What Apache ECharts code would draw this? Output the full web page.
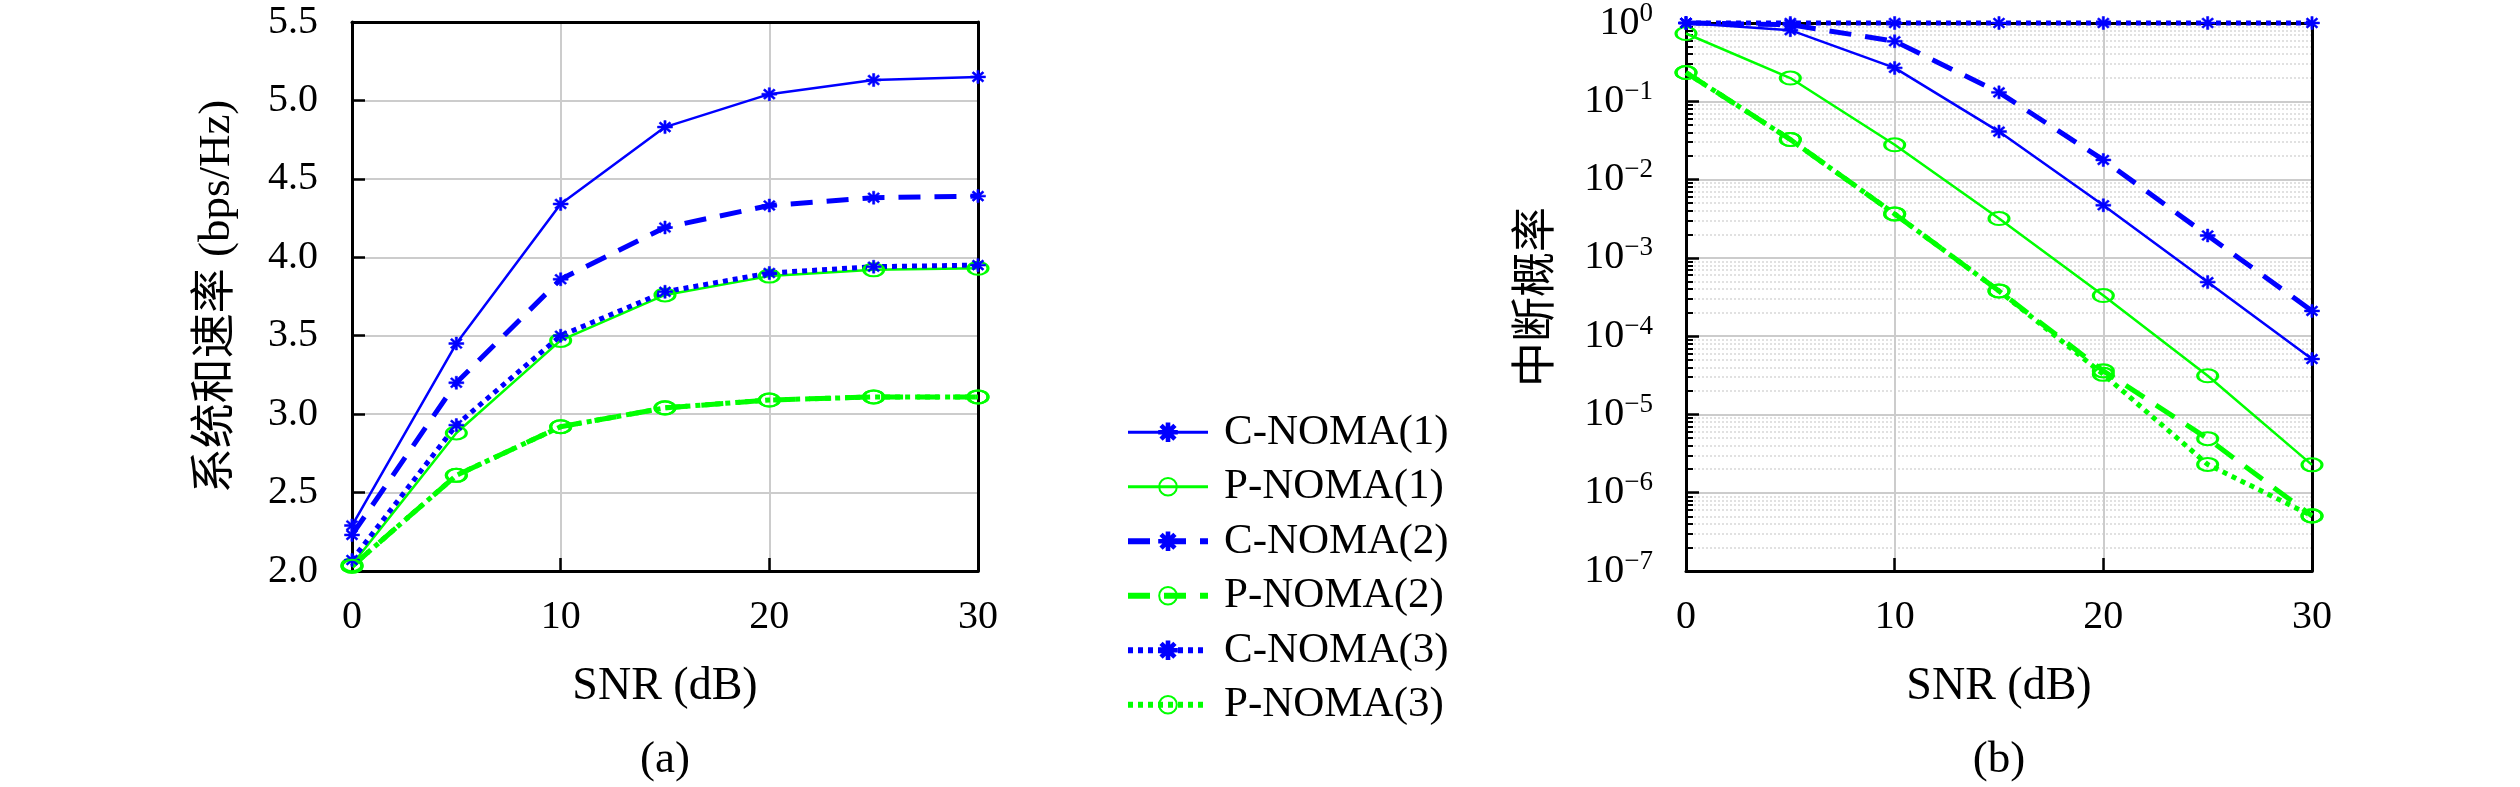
<!DOCTYPE html>
<html><head><meta charset="utf-8">
<script src="https://cdn.jsdelivr.net/npm/echarts@6/dist/echarts.min.js"></script>
<style>html,body{margin:0;padding:0;background:#fff}#c{width:2520px;height:787px}</style>
</head><body><div id="c"></div>
<script>
// ---------- data ----------
const snr = [0, 5, 10, 15, 20, 25, 30];
const seriesNames = ['C-NOMA(1)', 'P-NOMA(1)', 'C-NOMA(2)', 'P-NOMA(2)', 'C-NOMA(3)', 'P-NOMA(3)'];
// (a) sum rate (bps/Hz)
const rateC1 = [2.29, 3.45, 4.34, 4.83, 5.04, 5.13, 5.15];
const rateP1 = [2.04, 2.88, 3.47, 3.76, 3.88, 3.92, 3.93];
const rateC2 = [2.23, 3.20, 3.86, 4.19, 4.33, 4.38, 4.39];
const rateP2 = [2.03, 2.61, 2.92, 3.04, 3.09, 3.11, 3.11];
const rateC3 = [2.07, 2.93, 3.50, 3.78, 3.90, 3.94, 3.95];
const rateP3 = [2.03, 2.61, 2.92, 3.04, 3.09, 3.11, 3.11];
// (b) outage probability
const outC1 = [1, 0.81, 0.267, 0.041, 0.0047, 4.9e-4, 5.1e-5];
const outP1 = [0.734, 0.198, 0.0278, 0.00318, 3.3e-4, 3.12e-5, 2.27e-6];
const outC2 = [1, 0.95, 0.585, 0.130, 0.0178, 1.93e-3, 2.1e-4];
const outP2 = [0.233, 0.0325, 0.00364, 3.78e-4, 3.6e-5, 4.9e-6, 5.06e-7];
const outC3 = [1, 1, 1, 1, 1, 1, 1];
const outP3 = [0.233, 0.0325, 0.00364, 3.78e-4, 3.25e-5, 2.3e-6, 5.06e-7];
// ticks
const xTicks = [0, 10, 20, 30];
const rateTicks = [2.0, 2.5, 3.0, 3.5, 4.0, 4.5, 5.0, 5.5];
const outageExps = [-7, -6, -5, -4, -3, -2, -1, 0];

// ---------- styling ----------
const SERIF = '"Liberation Serif", "Noto Sans CJK SC", serif';
const BLUE = '#0000ff', GREEN = '#00ff00';
const STAR = 'path://M-0.15,-1L0.15,-1L0.15,1L-0.15,1Z M-1,-0.15L1,-0.15L1,0.15L-1,0.15Z ' +
  'M-0.601,-0.813L0.813,0.601L0.601,0.813L-0.813,-0.601Z M-0.813,0.601L0.601,-0.813L0.813,-0.601L-0.601,0.813Z';
const RING = 'path://M-1,0A1,1,0,1,0,1,0A1,1,0,1,0,-1,0Z';
const lineTypes = {
  solid: {width: 2.5, type: 'solid'},
  dashed: {width: 5, type: [22, 14]},
  dotted: {width: 5, type: [5, 5]}
};
const styles = ['solid', 'solid', 'dashed', 'dashed', 'dotted', 'dotted'];

function mk(name, data, idx, color, lt, isStar) {
  return {
    name, type: 'line', xAxisIndex: idx, yAxisIndex: idx,
    data: snr.map((x, i) => [x, data[i]]),
    symbol: isStar ? STAR : RING,
    symbolSize: isStar ? [15, 13] : [20, 13],
    showAllSymbol: true,
    lineStyle: Object.assign({color}, lineTypes[lt]),
    itemStyle: isStar ? {color, borderColor: color, borderWidth: 0.5}
                      : {color: 'rgba(0,0,0,0)', borderColor: color, borderWidth: 2.5},
    emphasis: {disabled: true},
    clip: false,
    z: 3
  };
}

const rateSets = [rateC1, rateP1, rateC2, rateP2, rateC3, rateP3];
const outSets = [outC1, outP1, outC2, outP2, outC3, outP3];
const series = [];
seriesNames.forEach((n, i) => {
  const star = n.startsWith('C');
  series.push(mk(n, rateSets[i], 0, star ? BLUE : GREEN, styles[i], star));
});
seriesNames.forEach((n, i) => {
  const star = n.startsWith('C');
  series.push(mk(n, outSets[i], 1, star ? BLUE : GREEN, styles[i], star));
});

const gridLine = {show: true, lineStyle: {color: '#cccccc', width: 2}};
const tick = {show: true, inside: true, length: 13, lineStyle: {color: '#000', width: 2.5}};
const axLine = {show: true, onZero: false, lineStyle: {color: '#000', width: 3}};
const xMin = xTicks[0], xMax = xTicks[xTicks.length - 1];

function xAx(idx) {
  return {
    type: 'value', gridIndex: idx, min: xMin, max: xMax, interval: xTicks[1] - xTicks[0],
    axisLine: axLine, axisTick: tick, splitLine: gridLine,
    axisLabel: {fontSize: 40, fontFamily: SERIF, color: '#000', margin: 26},
    name: 'SNR (dB)', nameLocation: 'middle', nameGap: 93,
    nameTextStyle: {fontSize: 46, fontFamily: SERIF, color: '#000'}
  };
}
// frame axes (top / right box lines)
function frameX(idx) {
  return {type: 'value', gridIndex: idx, position: 'top', min: xMin, max: xMax,
    axisLine: axLine, axisTick: {show: false}, axisLabel: {show: false}, splitLine: {show: false}};
}
const rateMin = rateTicks[0], rateMax = rateTicks[rateTicks.length - 1];
const outMin = Math.pow(10, outageExps[0]), outMax = Math.pow(10, outageExps[outageExps.length - 1]);

const option = {
  backgroundColor: '#fff',
  animation: false,
  grid: [
    {left: 352, top: 22, width: 626, height: 549},
    {left: 1686, top: 21, width: 626, height: 550}
  ],
  xAxis: [xAx(0), xAx(1), frameX(0), frameX(1)],
  yAxis: [
    {
      type: 'value', gridIndex: 0, min: rateMin, max: rateMax,
      interval: rateTicks[1] - rateTicks[0],
      axisLine: axLine, axisTick: tick, splitLine: gridLine,
      axisLabel: {fontSize: 40, fontFamily: SERIF, color: '#000', margin: 34, formatter: v => v.toFixed(1)},
      name: '系统和速率 (bps/Hz)', nameLocation: 'middle', nameGap: 112,
      nameTextStyle: {fontSize: 45, fontFamily: SERIF, color: '#000'}
    },
    {
      type: 'log', logBase: 10, gridIndex: 1, min: outMin, max: outMax,
      axisLine: axLine, axisTick: tick, splitLine: gridLine,
      minorTick: {show: true, splitNumber: 9, length: 7, lineStyle: {color: '#000', width: 2}},
      minorSplitLine: {show: true, lineStyle: {color: '#d8d8d8', width: 1.5, type: [2, 2]}},
      axisLabel: {
        margin: 33,
        formatter: v => {
          const e = Math.round(Math.log10(v));
          return '{b|10}{s|' + (e < 0 ? '\u2212' + (-e) : e) + '}';
        },
        rich: {
          b: {fontSize: 40, fontFamily: SERIF, color: '#000', lineHeight: 46},
          s: {fontSize: 27, fontFamily: SERIF, color: '#000', verticalAlign: 'top', lineHeight: 30}
        }
      },
      name: '中断概率', nameLocation: 'middle', nameGap: 125,
      nameTextStyle: {fontSize: 45, fontFamily: SERIF, color: '#000'}
    },
    {type: 'value', gridIndex: 0, position: 'right', min: rateMin, max: rateMax,
      axisLine: axLine, axisTick: {show: false}, axisLabel: {show: false}, splitLine: {show: false}},
    {type: 'log', logBase: 10, gridIndex: 1, position: 'right', min: outMin, max: outMax,
      axisLine: axLine, axisTick: {show: false}, axisLabel: {show: false}, splitLine: {show: false}}
  ],
  legend: {
    orient: 'vertical', left: 1120, top: 400, padding: 5,
    itemWidth: 80, itemHeight: 22, itemGap: 0,
    data: seriesNames.map((n, i) => ({name: n, lineStyle: {width: styles[i] === 'solid' ? 3 : 6}})),
    selectedMode: false,
    textStyle: {fontSize: 43, fontFamily: SERIF, color: '#000', lineHeight: 54.5, padding: [0, 0, 0, 11]}
  },
  graphic: [
    {type: 'text', x: 665, y: 760, style: {text: '(a)', fontSize: 45, fontFamily: SERIF, fill: '#000', align: 'center', verticalAlign: 'middle'}},
    {type: 'text', x: 1999, y: 760, style: {text: '(b)', fontSize: 45, fontFamily: SERIF, fill: '#000', align: 'center', verticalAlign: 'middle'}}
  ],
  series
};
const chart = echarts.init(document.getElementById('c'), null, {renderer: 'canvas'});
chart.setOption(option);
</script></body></html>
